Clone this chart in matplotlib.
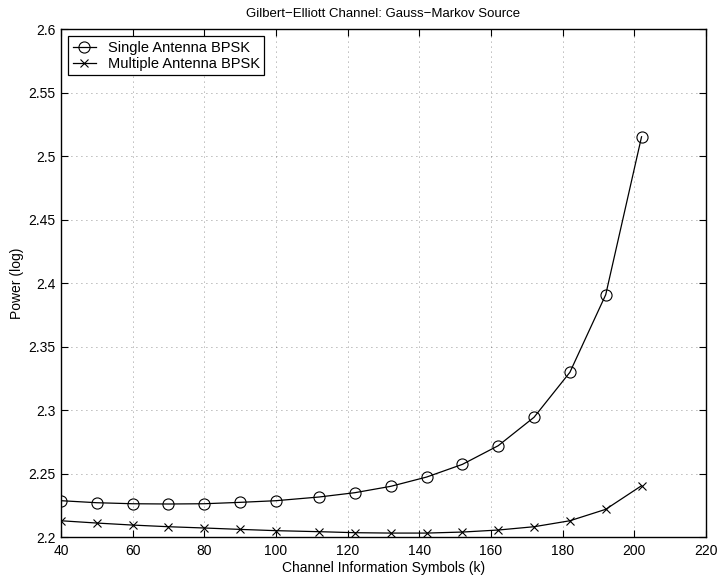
import matplotlib.pyplot as plt
import numpy as np

# symbols per channel block
k = [40, 50, 60, 70, 80, 90, 100, 112, 122, 132, 142, 152, 162, 172, 182, 192, 202]

single_bpsk = [2.2286, 2.2270, 2.2262, 2.2260, 2.2262, 2.2273, 2.2286, 2.2315, 2.2349,
               2.2399, 2.2472, 2.2572, 2.2719, 2.2943, 2.3297, 2.3908, 2.5152]
multi_bpsk = [2.2128, 2.2110, 2.2094, 2.2081, 2.2071, 2.2060, 2.2050, 2.2042, 2.2034,
              2.2031, 2.2031, 2.2039, 2.2055, 2.2081, 2.2128, 2.2218, 2.2404]

xticks = np.arange(40, 221, 20)
yticks = np.arange(2.2, 2.601, 0.05)

plt.rcParams['font.family'] = ['Liberation Sans', 'DejaVu Sans']
plt.rcParams['font.size'] = 10

fig = plt.figure(figsize=(7.19, 5.82), dpi=100)
ax = fig.add_axes([0.0848, 0.0773, 0.8972, 0.8727])

ax.plot(k, single_bpsk, '-', color='black', linewidth=0.9, marker='o',
        markersize=8, markerfacecolor='none', markeredgewidth=0.8,
        label='Single Antenna BPSK')
ax.plot(k, multi_bpsk, '-', color='black', linewidth=0.9, marker='x',
        markersize=5.5, markeredgewidth=0.8, label='Multiple Antenna BPSK')

ax.set_xlim(40, 220)
ax.set_ylim(2.2, 2.6)
ax.set_xticks(xticks)
ax.set_yticks(yticks)
ax.set_yticklabels([f"{v:g}" for v in np.round(yticks, 2)])

ax.tick_params(direction='in', top=True, right=True, length=5, width=0.8)
ax.tick_params(axis='x', pad=5)
ax.tick_params(axis='y', pad=4)
ax.grid(True, linestyle=(0, (1, 5)), color='black', linewidth=0.6, alpha=0.55)
for s in ax.spines.values():
    s.set_linewidth(1.0)

ax.set_title("Gilbert\u2212Elliott Channel: Gauss\u2212Markov Source", fontsize=9.5, pad=9)
ax.set_xlabel("Channel Information Symbols (k)", labelpad=2)
ax.set_ylabel("Power (log)", labelpad=3)

leg = ax.legend(loc='upper left', fancybox=False, edgecolor='black', framealpha=1,
                handlelength=1.6, borderpad=0.3, labelspacing=0.15,
                borderaxespad=0.5, fontsize=10.5)
leg.get_frame().set_linewidth(0.9)

plt.savefig("out.png", dpi=100)
